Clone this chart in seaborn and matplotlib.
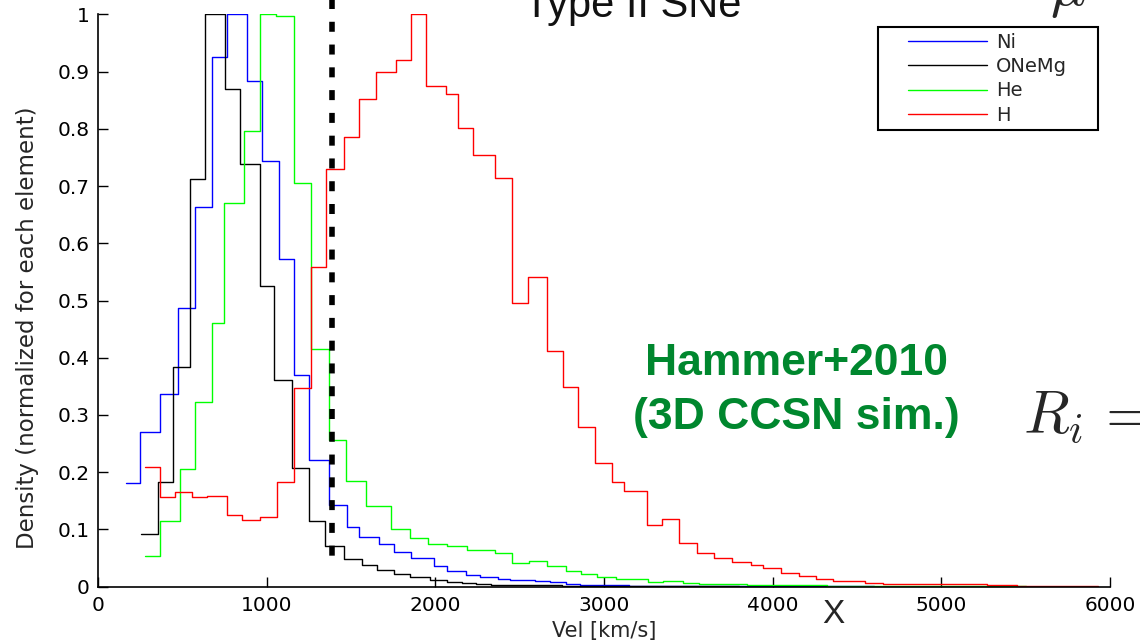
import matplotlib
matplotlib.use("Agg")
import numpy as np
import pandas as pd
import seaborn as sns
import matplotlib.pyplot as plt
from matplotlib.patches import Rectangle

# ---------------- data ----------------
ni_edges = [166, 249, 368, 472, 575, 678, 766, 883, 972, 1075, 1162, 1253, 1369, 1474,
            1547, 1666, 1755, 1855, 1990, 2067, 2181, 2264, 2373, 2444, 2590, 2680, 2775,
            2860, 2960, 3150, 3950, 4600]
ni_vals = [0.182, 0.271, 0.336, 0.487, 0.663, 0.926, 1.0, 0.883, 0.744, 0.573, 0.369, 0.221,
           0.143, 0.104, 0.087, 0.074, 0.061, 0.050, 0.036, 0.028, 0.020, 0.017, 0.014,
           0.0117, 0.0093, 0.0080, 0.0055, 0.0038, 0.0025, 0.0012, 0.0005]

onemg_edges = [253, 356, 443, 545, 636, 753, 844, 962, 1045, 1150, 1253, 1346, 1460, 1567,
               1652, 1757, 1849, 1968, 2067, 2160, 2240, 2330, 2500, 2750, 3100, 3800]
onemg_vals = [0.0915, 0.183, 0.383, 0.712, 1.0, 0.869, 0.739, 0.525, 0.361, 0.208, 0.115,
              0.071, 0.049, 0.038, 0.029, 0.023, 0.0175, 0.0117, 0.009, 0.006, 0.0045,
              0.0035, 0.0023, 0.0012, 0.0005]

he_edges = [281, 368, 486, 577, 678, 749, 867, 958, 1057, 1160, 1265, 1368, 1470, 1587,
            1735, 1849, 1954, 2071, 2189, 2353, 2452, 2557, 2660, 2774, 2863, 2956, 3071,
            3262, 3351, 3470, 3565, 3850, 4320, 5000, 5500]
he_vals = [0.054, 0.114, 0.206, 0.323, 0.460, 0.671, 0.796, 1.0, 0.997, 0.706, 0.415, 0.257,
           0.185, 0.141, 0.1003, 0.0845, 0.0746, 0.0717, 0.0635, 0.0595, 0.041, 0.045,
           0.0355, 0.028, 0.022, 0.0175, 0.014, 0.0082, 0.0093, 0.006, 0.004, 0.003,
           0.0017, 0.0008]

h_edges = [281, 368, 458, 557, 648, 766, 855, 958, 1059, 1162, 1265, 1353, 1456, 1545, 1650,
           1766, 1853, 1942, 2061, 2136, 2223, 2355, 2456, 2547, 2663, 2754, 2843, 2944,
           3049, 3120, 3252, 3341, 3446, 3549, 3653, 3756, 3873, 3944, 4049, 4155, 4254,
           4359, 4547, 4655, 4764, 4951, 5268, 5446, 5600, 5928]
h_vals = [0.2086, 0.156, 0.165, 0.157, 0.1585, 0.125, 0.1165, 0.122, 0.183, 0.347, 0.558,
          0.729, 0.786, 0.8526, 0.899, 0.920, 1.0, 0.875, 0.860, 0.802, 0.754, 0.7135,
          0.495, 0.5405, 0.412, 0.349, 0.2796, 0.2167, 0.1835, 0.1678, 0.107, 0.118,
          0.0758, 0.0583, 0.050, 0.0426, 0.0385, 0.0333, 0.0245, 0.0187, 0.014, 0.0095,
          0.0065, 0.0052, 0.0047, 0.0040, 0.0024, 0.0020, 0.0010]

element_names = ["Ni", "ONeMg", "He", "H"]
element_colors = ["#0000ff", "#000000", "#00ff00", "#ff0000"]
cut_velocity = 1390

x_ticks = [0, 1000, 2000, 3000, 4000, 5000, 6000]
y_ticks = [0, 0.1, 0.2, 0.3, 0.4, 0.5, 0.6, 0.7, 0.8, 0.9, 1.0]
y_tick_labels = ["0", "0.1", "0.2", "0.3", "0.4", "0.5", "0.6", "0.7", "0.8", "0.9", "1"]

# ---------------- plotting ----------------
sns.set_style("ticks")
plt.rcParams["font.family"] = ["DejaVu Sans"]
plt.rcParams["mathtext.fontset"] = "cm"

W, H = 1140, 640
fig = plt.figure(figsize=(W / 100, H / 100), dpi=100)
ax = fig.add_axes([98 / W, (H - 586.7) / H, 1012 / W, 572.4 / H])

series = [(ni_edges, ni_vals), (onemg_edges, onemg_vals), (he_edges, he_vals), (h_edges, h_vals)]
for (edges, vals), name, col in zip(series, element_names, element_colors):
    df = pd.DataFrame({"vel": edges, "dens": list(vals) + [vals[-1]]})
    sns.lineplot(data=df, x="vel", y="dens", ax=ax, color=col, lw=1.0,
                 drawstyle="steps-post", estimator=None, sort=False, label=name)

# dashed cut line
ax.plot([cut_velocity, cut_velocity], [1.041, 0.04], color="black", lw=4,
        linestyle=(0, (1.8, 2.3)), dash_capstyle="butt", clip_on=False, zorder=6)

ax.set_xlim(0, 6000)
ax.set_ylim(0, 1)
ax.set_xticks(x_ticks)
ax.set_xticklabels([str(t) for t in x_ticks])
ax.set_yticks(y_ticks)
ax.set_yticklabels(y_tick_labels)
ax.tick_params(direction="in", length=7, width=1, labelsize=14.5, colors="black")
ax.tick_params(axis="y", pad=6)
ax.tick_params(axis="x", pad=7)
sns.despine(ax=ax)
for s in ["left", "bottom"]:
    ax.spines[s].set_linewidth(1.2)
    ax.spines[s].set_color("black")

ax.set_xlabel("Vel [km/s]", fontsize=15, labelpad=4)
ax.set_ylabel("Density (normalized for each element)", fontsize=16.5)
ax.yaxis.set_label_coords(-0.058, 0.453)

# legend with a box
ax.add_patch(Rectangle((0.7708, 0.7979), 0.9881 - 0.7708, 0.9778 - 0.7979,
                       transform=ax.transAxes, facecolor="white", edgecolor="black",
                       lw=1.5, clip_on=False, zorder=7))
leg = ax.legend(loc="upper left", bbox_to_anchor=(0.8004, 0.9675), frameon=False,
                fontsize=14, handlelength=4.07, handletextpad=0.46, labelspacing=0.27,
                borderpad=0, borderaxespad=0)
leg.set_zorder(8)
for lh in leg.get_lines():
    lh.set_linewidth(1.0)

# slide overlays
def fx(px):
    return px / W

def fy(py):
    return 1 - py / H

fig.text(fx(524), fy(16.7), "Type II SNe", fontsize=30, family="Liberation Sans",
         va="baseline", ha="left", color="#111111")
fig.text(fx(1050), fy(5), r"$\mu$", fontsize=43, va="baseline", ha="left")
fig.text(fx(796), fy(375), "Hammer+2010", fontsize=32, fontweight="bold",
         family="Liberation Sans", color="#00872E", ha="center", va="baseline")
fig.text(fx(796), fy(429), "(3D CCSN sim.)", fontsize=32, fontweight="bold",
         family="Liberation Sans", color="#00872E", ha="center", va="baseline")
fig.text(fx(1023), fy(433), r"$R_i\,=$", fontsize=43, va="baseline", ha="left")
fig.text(fx(833), fy(623), "X", fontsize=24, family="Liberation Sans",
         ha="center", va="baseline")

fig.savefig("out.png", dpi=100)
